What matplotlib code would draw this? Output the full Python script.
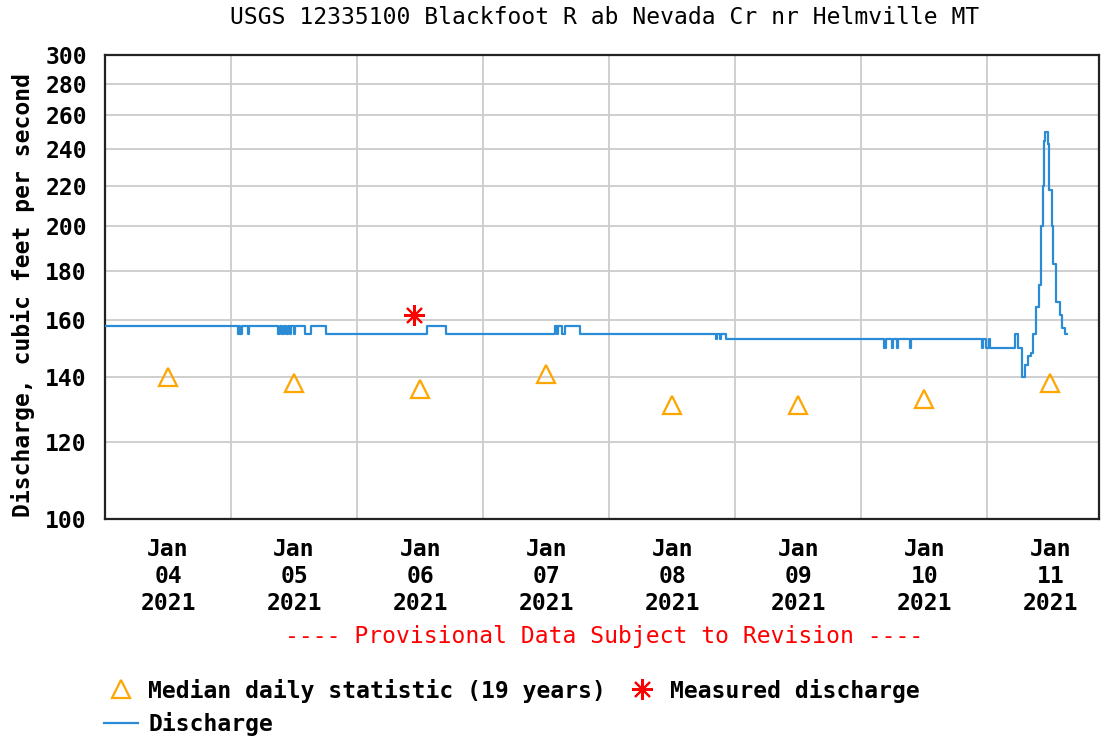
import numpy as np
import pandas as pd
import matplotlib
matplotlib.use('Agg')
import matplotlib.pyplot as plt
import matplotlib.dates as mdates
from matplotlib.ticker import FixedLocator, FixedFormatter, NullLocator


title = 'USGS 12335100 Blackfoot R ab Nevada Cr nr Helmville MT'

# 15-minute discharge, only the points where the value changes (step plot)
q_times = ['2021-01-04 00:00', '2021-01-05 01:15', '2021-01-05 01:30', '2021-01-05 01:45',
           '2021-01-05 02:00', '2021-01-05 03:15', '2021-01-05 03:30', '2021-01-05 09:00',
           '2021-01-05 09:15', '2021-01-05 09:45', '2021-01-05 10:00', '2021-01-05 10:30',
           '2021-01-05 10:45', '2021-01-05 11:15', '2021-01-05 11:30', '2021-01-05 12:00',
           '2021-01-05 12:15', '2021-01-05 14:00', '2021-01-05 15:15', '2021-01-05 18:00',
           '2021-01-06 13:15', '2021-01-06 17:00', '2021-01-07 13:45', '2021-01-07 14:00',
           '2021-01-07 14:15', '2021-01-07 15:00', '2021-01-07 15:30', '2021-01-07 18:30',
           '2021-01-08 20:15', '2021-01-08 20:30', '2021-01-08 21:00', '2021-01-08 21:15',
           '2021-01-08 22:15', '2021-01-10 04:15', '2021-01-10 04:45', '2021-01-10 05:45',
           '2021-01-10 06:00', '2021-01-10 06:45', '2021-01-10 07:00', '2021-01-10 09:15',
           '2021-01-10 09:30', '2021-01-10 23:00', '2021-01-10 23:15', '2021-01-10 23:45',
           '2021-01-11 00:15', '2021-01-11 00:30', '2021-01-11 05:15', '2021-01-11 05:45',
           '2021-01-11 06:30', '2021-01-11 07:15', '2021-01-11 07:45', '2021-01-11 08:15',
           '2021-01-11 08:45', '2021-01-11 09:15', '2021-01-11 09:45', '2021-01-11 10:15',
           '2021-01-11 10:30', '2021-01-11 10:45', '2021-01-11 11:00', '2021-01-11 11:30',
           '2021-01-11 11:45', '2021-01-11 12:15', '2021-01-11 12:30', '2021-01-11 13:00',
           '2021-01-11 13:45', '2021-01-11 14:15', '2021-01-11 14:45', '2021-01-11 15:15']
q_values = [158, 155, 158, 155,
            158, 155, 158, 155,
            158, 155, 158, 155,
            158, 155, 158, 155,
            158, 155, 158, 155,
            158, 155, 158, 155,
            158, 155, 158, 155,
            153, 155, 153, 155,
            153, 150, 153, 150,
            153, 150, 153, 150,
            153, 150, 153, 150,
            153, 150, 155, 150,
            140, 144, 147, 148,
            155, 165, 174, 200,
            220, 245, 250, 243,
            218, 200, 183, 167,
            162, 157, 155, 155]

median_days = ['2021-01-04 12:00', '2021-01-05 12:00', '2021-01-06 12:00', '2021-01-07 12:00',
               '2021-01-08 12:00', '2021-01-09 12:00', '2021-01-10 12:00', '2021-01-11 12:00']
median_values = [140, 138, 136, 141, 131, 131, 133, 138]

measured_time = ['2021-01-06 10:45']
measured_value = [162]

y_ticks = [100, 120, 140, 160, 180, 200, 220, 240, 260, 280, 300]

t_q = pd.to_datetime(q_times)
t_med = pd.to_datetime(median_days)
t_meas = pd.to_datetime(measured_time)

font = 'DejaVu Sans Mono'
fs = 16.6

fig = plt.figure(figsize=(11.03, 7.38), dpi=100)
ax = fig.add_axes([105 / 1103, 1 - 519 / 738, (1099 - 105) / 1103, (519 - 55) / 738])

ax.plot(t_q, q_values, drawstyle='steps-post', color='#2b8bd4', lw=1.6,
        label='Discharge', zorder=3)
ax.plot(t_med, median_values, ls='none', marker='^', ms=13, mfc='none',
        mec='#ffa500', mew=1.6, label='Median daily statistic (19 years)', zorder=4)
ax.plot(t_meas, measured_value, ls='none', marker=(8, 2, 0), ms=15,
        mec='#ff0000', mew=1.5, label='Measured discharge', zorder=5)

ax.set_yscale('log')
ax.set_ylim(100, 300)
ax.yaxis.set_major_locator(FixedLocator(y_ticks))
ax.yaxis.set_major_formatter(FixedFormatter([str(v) for v in y_ticks]))
ax.yaxis.set_minor_locator(NullLocator())

ax.set_xlim(pd.Timestamp('2021-01-04 00:00'), pd.Timestamp('2021-01-11 21:15'))
ax.xaxis.set_major_locator(mdates.HourLocator(byhour=12))
ax.xaxis.set_major_formatter(mdates.DateFormatter('%b\n%d\n%Y'))
ax.xaxis.set_minor_locator(mdates.DayLocator())

ax.grid(True, axis='y', which='major', color='#cccccc', lw=1.3)
ax.grid(True, axis='x', which='minor', color='#cccccc', lw=1.3)
ax.tick_params(which='both', length=0)
ax.tick_params(axis='x', pad=14)
ax.tick_params(axis='y', pad=13)
for lab in ax.get_xticklabels() + ax.get_yticklabels():
    lab.set_fontfamily(font)
    lab.set_fontweight('bold')
    lab.set_fontsize(fs)
for lab in ax.get_xticklabels():
    lab.set_linespacing(1.2)
for sp in ax.spines.values():
    sp.set_linewidth(1.6)
    sp.set_color('#222222')

ax.set_ylabel('Discharge, cubic feet per second', family=font, fontweight='bold',
              fontsize=fs)
ax.yaxis.set_label_coords(-0.07, 0.482)

fig.text(0.548, 1 - 17 / 738, title, ha='center', va='center', family=font, fontsize=fs)
fig.text(0.548, 1 - 636 / 738, '---- Provisional Data Subject to Revision ----',
         ha='center', va='center', family=font, fontsize=fs, color='#ff0000')

h, l = ax.get_legend_handles_labels()
order = [1, 0, 2]
leg = fig.legend([h[i] for i in order], [l[i] for i in order], ncol=2,
                 loc='upper left', bbox_to_anchor=(92 / 1103, 1 - 667 / 738),
                 frameon=False, borderpad=0, handlelength=1.5, handletextpad=0.45,
                 columnspacing=0.8, labelspacing=0.42,
                 prop={'family': font, 'weight': 'bold', 'size': fs})

fig.savefig('out.png', dpi=100)
